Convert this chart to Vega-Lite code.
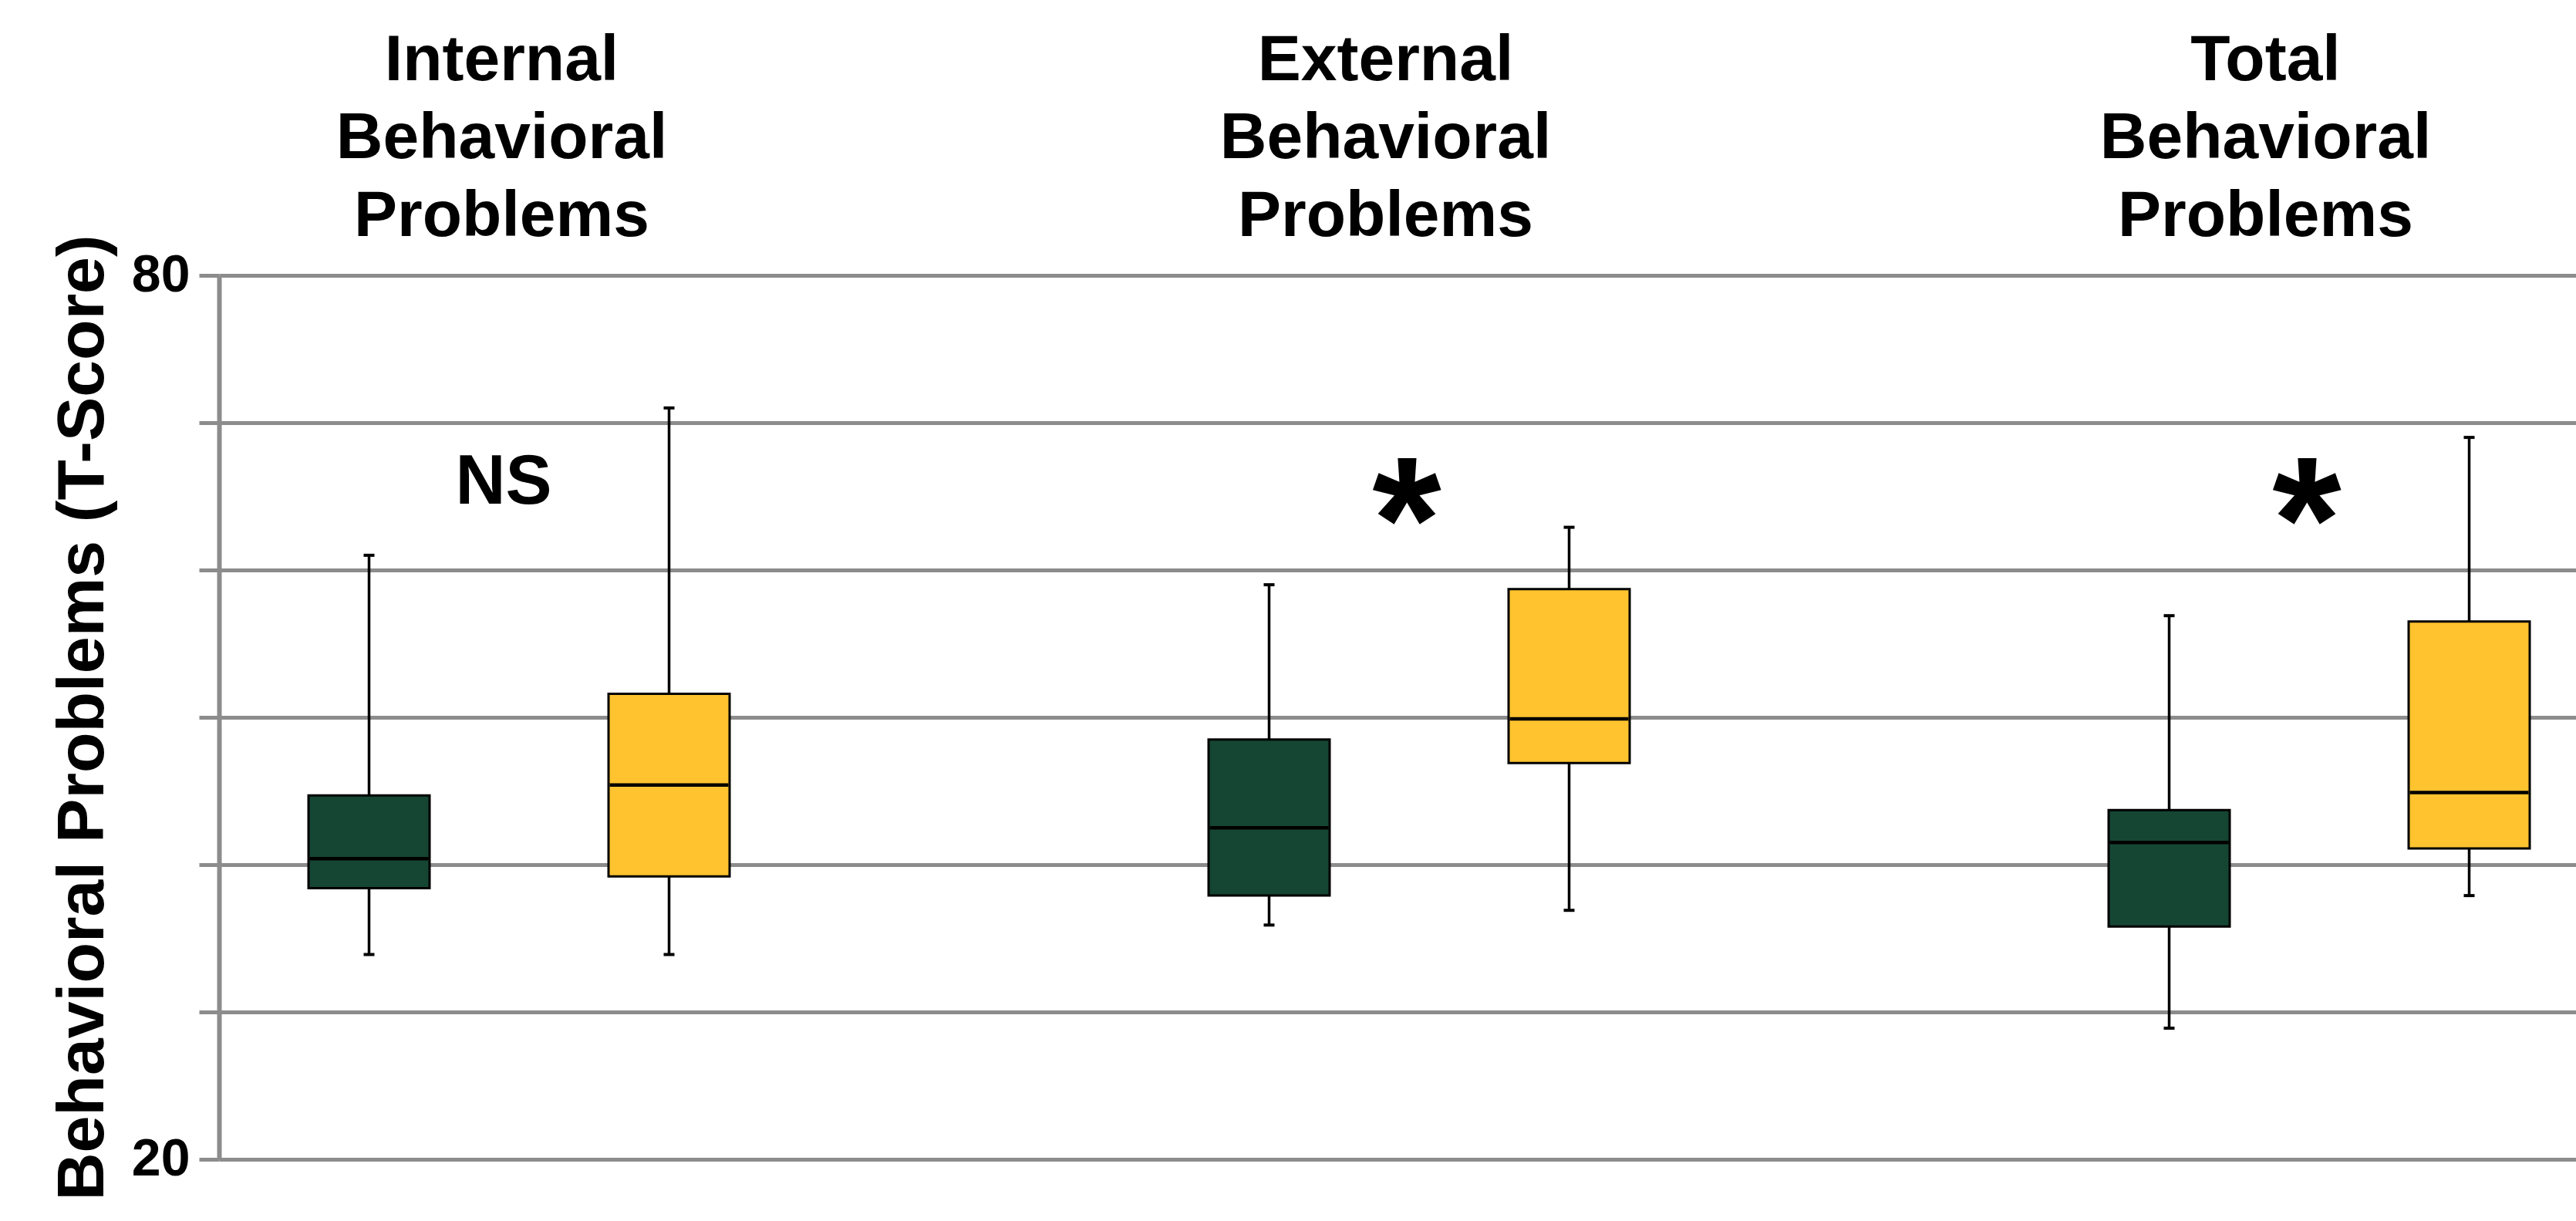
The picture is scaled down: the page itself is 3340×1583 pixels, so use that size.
{
  "$schema": "https://vega.github.io/schema/vega-lite/v6.json",
  "width": 3056,
  "height": 1146,
  "autosize": {"type": "none"},
  "padding": {"left": 284, "top": 357, "right": 0, "bottom": 80},
  "background": "white",
  "config": {"view": {"stroke": null}, "font": "Liberation Sans"},
  "datasets": {
    "boxes": [
      {"slot": "Internal|Group 1", "measure": "Internal Behavioral Problems", "group": "Group 1", "lower": 33.9, "q1": 38.4, "median": 40.4, "q3": 44.7, "upper": 61.0},
      {"slot": "Internal|Group 2", "measure": "Internal Behavioral Problems", "group": "Group 2", "lower": 33.9, "q1": 39.2, "median": 45.4, "q3": 51.6, "upper": 71.0},
      {"slot": "External|Group 1", "measure": "External Behavioral Problems", "group": "Group 1", "lower": 35.9, "q1": 37.9, "median": 42.5, "q3": 48.5, "upper": 59.0},
      {"slot": "External|Group 2", "measure": "External Behavioral Problems", "group": "Group 2", "lower": 36.9, "q1": 46.9, "median": 49.9, "q3": 58.7, "upper": 62.9},
      {"slot": "Total|Group 1", "measure": "Total Behavioral Problems", "group": "Group 1", "lower": 28.9, "q1": 35.8, "median": 41.5, "q3": 43.7, "upper": 56.9},
      {"slot": "Total|Group 2", "measure": "Total Behavioral Problems", "group": "Group 2", "lower": 37.9, "q1": 41.1, "median": 44.9, "q3": 56.5, "upper": 69.0}
    ],
    "notes": [
      {"slot": "Internal|Group 1", "label": "NS"},
      {"slot": "External|Group 1", "label": "*"},
      {"slot": "Total|Group 1", "label": "*"}
    ]
  },
  "layer": [
    {
      "data": {"name": "boxes"},
      "mark": {"type": "rule", "color": "black", "strokeWidth": 3.5},
      "encoding": {
        "x": {
          "field": "slot",
          "type": "nominal",
          "scale": {
            "domain": ["Internal|Group 1", "Internal|Group 2", "gap1", "External|Group 1", "External|Group 2", "gap2", "Total|Group 1", "Total|Group 2"],
            "range": [0, 3112],
            "paddingInner": 0,
            "paddingOuter": 0
          },
          "axis": {
            "orient": "top",
            "ticks": false,
            "domain": false,
            "grid": false,
            "title": null,
            "labelAngle": 0,
            "labelLimit": 0,
            "labelExpr": "datum.value == 'Internal|Group 1' ? ['Internal', 'Behavioral', 'Problems'] : datum.value == 'External|Group 1' ? ['External', 'Behavioral', 'Problems'] : datum.value == 'Total|Group 1' ? ['Total', 'Behavioral', 'Problems'] : ''",
            "labelFontSize": 84,
            "labelFontWeight": "bold",
            "labelFont": "Liberation Sans",
            "labelColor": "black",
            "labelLineHeight": 101,
            "labelPadding": 236,
            "labelOffset": {
              "condition": [
                {"test": "datum.value == 'Internal|Group 1'", "value": 172},
                {"test": "datum.value == 'External|Group 1'", "value": 151}
              ],
              "value": 125
            }
          }
        },
        "y": {
          "field": "lower",
          "type": "quantitative",
          "scale": {"domain": [20, 80], "nice": false, "zero": false},
          "axis": {
            "title": "Behavioral Problems (T-Score)",
            "titleFontSize": 86,
            "titleFontWeight": "bold",
            "titleFont": "Liberation Sans",
            "titleColor": "black",
            "titlePadding": 19,
            "values": [20, 30, 40, 50, 60, 70, 80],
            "labelExpr": "datum.value == 20 || datum.value == 80 ? datum.label : ''",
            "labelFontSize": 68,
            "labelFontWeight": "bold",
            "labelFont": "Liberation Sans",
            "labelColor": "black",
            "labelPadding": 12,
            "tickSize": 26,
            "tickWidth": 5,
            "tickColor": "#8c8c8c",
            "grid": true,
            "gridColor": "#8c8c8c",
            "gridWidth": 5,
            "gridOpacity": 1,
            "domainColor": "#8c8c8c",
            "domainWidth": 6
          }
        },
        "y2": {"field": "upper"}
      }
    },
    {
      "data": {"name": "boxes"},
      "mark": {"type": "bar", "size": 157, "stroke": "black", "strokeWidth": 3},
      "encoding": {
        "x": {"field": "slot", "type": "nominal"},
        "y": {"field": "q1", "type": "quantitative", "title": "Behavioral Problems (T-Score)"},
        "y2": {"field": "q3"},
        "color": {
          "field": "group",
          "type": "nominal",
          "scale": {"domain": ["Group 1", "Group 2"], "range": ["#154633", "#FEC32E"]},
          "legend": null
        }
      }
    },
    {
      "data": {"name": "boxes"},
      "mark": {"type": "tick", "size": 154, "thickness": 4.5, "color": "black", "opacity": 1},
      "encoding": {
        "x": {"field": "slot", "type": "nominal"},
        "y": {"field": "median", "type": "quantitative", "title": "Behavioral Problems (T-Score)"}
      }
    },
    {
      "data": {"name": "boxes"},
      "mark": {"type": "tick", "size": 14, "thickness": 4, "color": "black", "opacity": 1},
      "encoding": {
        "x": {"field": "slot", "type": "nominal"},
        "y": {"field": "lower", "type": "quantitative", "title": "Behavioral Problems (T-Score)"}
      }
    },
    {
      "data": {"name": "boxes"},
      "mark": {"type": "tick", "size": 14, "thickness": 4, "color": "black", "opacity": 1},
      "encoding": {
        "x": {"field": "slot", "type": "nominal"},
        "y": {"field": "upper", "type": "quantitative", "title": "Behavioral Problems (T-Score)"}
      }
    },
    {
      "data": {"name": "notes"},
      "transform": [{"filter": "datum.label == 'NS'"}],
      "mark": {"type": "text", "fontSize": 90, "fontWeight": "bold", "font": "Liberation Sans", "color": "black", "baseline": "middle", "align": "center", "dx": -20},
      "encoding": {
        "x": {"field": "slot", "type": "nominal", "bandPosition": 1},
        "y": {"datum": 65.9, "type": "quantitative", "title": "Behavioral Problems (T-Score)"},
        "text": {"field": "label"}
      }
    },
    {
      "data": {"name": "notes"},
      "transform": [{"filter": "datum.label == '*'"}],
      "mark": {"type": "text", "fontSize": 230, "fontWeight": "bold", "font": "Liberation Sans", "color": "black", "baseline": "alphabetic", "align": "center", "dx": -16},
      "encoding": {
        "x": {"field": "slot", "type": "nominal", "bandPosition": 1},
        "y": {"datum": 59.27, "type": "quantitative", "title": "Behavioral Problems (T-Score)"},
        "text": {"field": "label"}
      }
    }
  ]
}
